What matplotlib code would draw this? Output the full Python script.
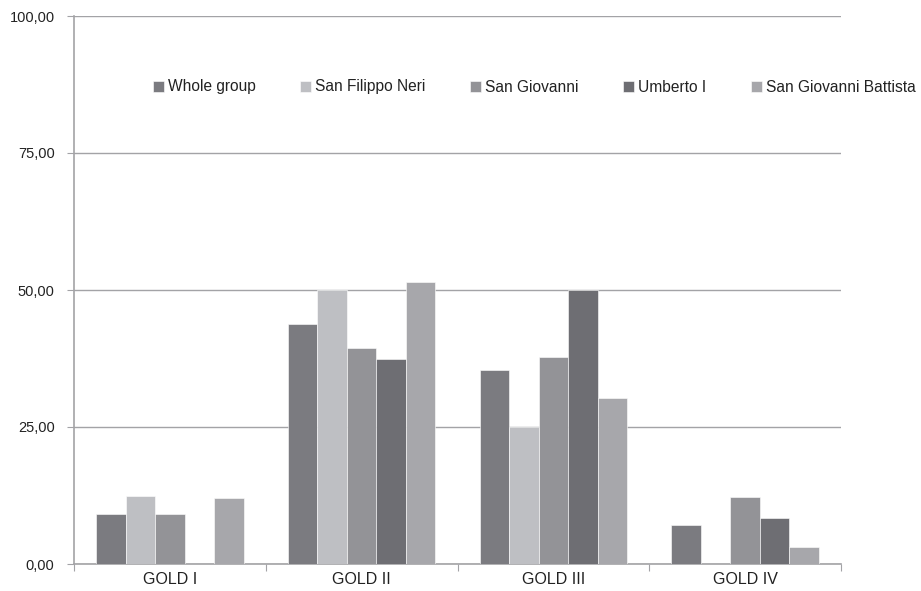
import numpy as np
import matplotlib.pyplot as plt

plt.rcParams['font.family'] = ['Liberation Sans', 'DejaVu Sans']

categories = ['GOLD I', 'GOLD II', 'GOLD III', 'GOLD IV']
series = ['Whole group', 'San Filippo Neri', 'San Giovanni', 'Umberto I', 'San Giovanni Battista']
whole_group = [9.1, 43.8, 35.4, 7.2]
san_filippo_neri = [12.5, 50.0, 25.0, 0.0]
san_giovanni = [9.1, 39.4, 37.8, 12.2]
umberto_i = [0.0, 37.4, 50.0, 8.4]
san_giovanni_battista = [12.1, 51.4, 30.3, 3.1]
y_ticks = [0, 25, 50, 75, 100]

values = [whole_group, san_filippo_neri, san_giovanni, umberto_i, san_giovanni_battista]
colors = ['#7b7b80', '#bebfc3', '#939397', '#6e6e73', '#a7a7ab']
grey = '#a3a3a6'

fig = plt.figure(figsize=(9.21, 5.91), dpi=100)
ax = fig.add_axes([74 / 921, 27 / 591, 767 / 921, 548 / 591])

x = np.arange(len(categories))
width = 0.154
for j, (name, vals) in enumerate(zip(series, values)):
    ax.bar(x + (j - 2) * width, vals, width, color=colors[j], label=name,
           edgecolor='white', linewidth=0.4, zorder=3)

ax.set_xlim(-0.5, len(categories) - 0.5)
ax.set_ylim(0, 100)
ax.set_yticks(y_ticks)
ax.set_yticklabels([f'{v:.2f}'.replace('.', ',') for v in y_ticks], fontsize=10.5, color='#222222')
ax.yaxis.grid(True, color=grey, linewidth=1, zorder=0)
ax.tick_params(axis='y', length=5, color=grey, pad=9)

# category labels between boundary ticks
ax.set_xticks(np.arange(-0.5, len(categories), 1.0))
ax.set_xticklabels([])
ax.set_xticks(x, minor=True)
ax.set_xticklabels(categories, minor=True, fontsize=11.5, color='#222222')
ax.tick_params(axis='x', which='major', length=5, color=grey)
ax.tick_params(axis='x', which='minor', length=0, pad=6)

for side in ['top', 'right']:
    ax.spines[side].set_visible(False)
for side in ['left', 'bottom']:
    ax.spines[side].set_color(grey)
    ax.spines[side].set_linewidth(1.2)

leg = ax.legend(loc='center left', bbox_to_anchor=(79 / 767, (564 - 87) / 548), ncol=5,
                frameon=False, fontsize=11.2, handlelength=0.7, handleheight=0.7,
                handletextpad=0.25, columnspacing=2.88, borderaxespad=0, borderpad=0)
for t in leg.get_texts():
    t.set_color('#222222')

fig.savefig('out.png', dpi=100)
